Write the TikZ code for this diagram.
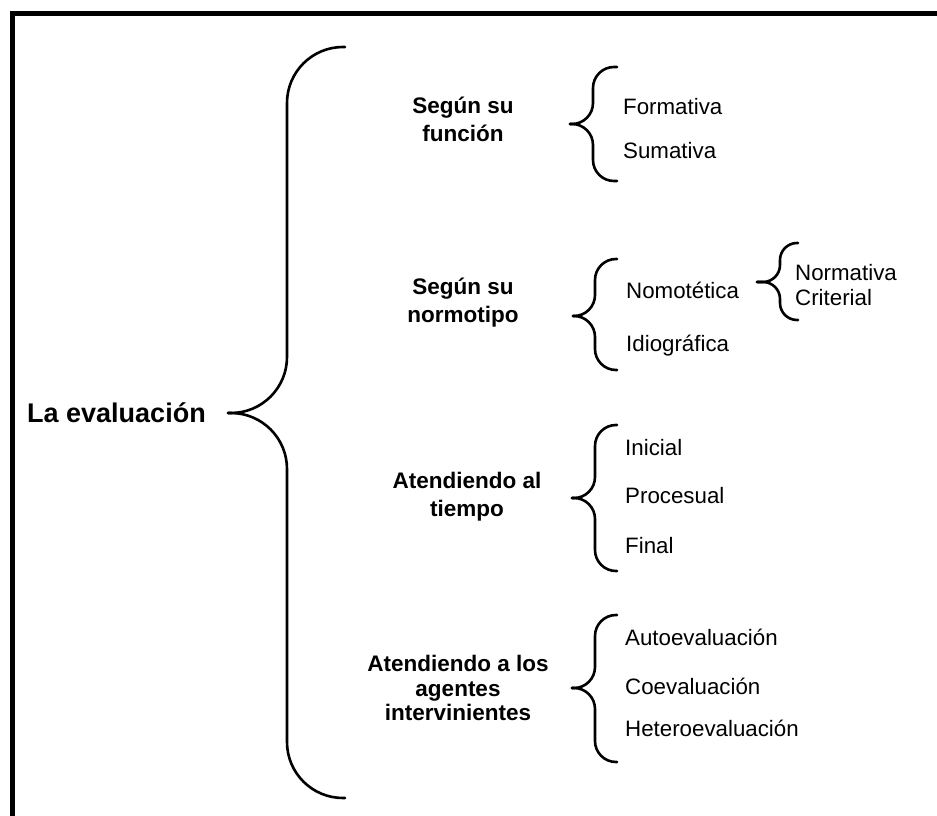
\documentclass[tikz,border=0pt]{standalone}
\usepackage{fontspec}
\setmainfont{Liberation Sans}

% llave: #1 extremos x, #2 lomo x, #3 pico x,
% #4 arriba y, #5 pico y, #6 abajo y, #7 radio
\newcommand{\llave}[7]{%
  \draw[llave, rounded corners=#7] (#1,#4) -- (#2,#4) -- (#2,#5) -- (#3,#5);
  \draw[llave, rounded corners=#7] (#3,#5) -- (#2,#5) -- (#2,#6) -- (#1,#6);}

\tikzset{
  llave/.style={line width=2.6pt, line cap=round},
  marco/.style={line width=5pt},
  tipo/.style={font=\fontsize{22.5}{28}\selectfont\bfseries, align=center, inner sep=0pt},
  item/.style={font=\fontsize{22.3}{26}\selectfont, anchor=west, inner sep=0pt,
    text height=16pt, text depth=0pt},
}

\begin{document}
\begin{tikzpicture}[x=1pt, y=-1pt]
\useasboundingbox (0,0) rectangle (937,816);
\draw[marco] (12.5,816) -- (12.5,13.5) -- (937,13.5);

\node[anchor=west, inner sep=0pt, text height=19pt, text depth=0pt,
  font=\fontsize{27}{32}\selectfont\bfseries] (eval) at (27,413) {La evaluación};

\node[tipo] (funcion) at (463,119) {Según su\\función};
\node[tipo] (normo) at (463,303) {Según su\\normotipo};
\node[tipo] (tiempo) at (467,497) {Atendiendo al\\tiempo};
\node[tipo, font=\fontsize{22.5}{24.5}\selectfont\bfseries] (agentes) at (458,688)
  {Atendiendo a los\\agentes\\intervinientes};

\node[item] (form) at (623,106) {Formativa};
\node[item] (suma) at (623,150) {Sumativa};
\node[item] (nomo) at (626,290) {Nomotética};
\node[item] (idio) at (626,343) {Idiográfica};
\node[item] (norm) at (795,272) {Normativa};
\node[item] (crit) at (795,297) {Criterial};
\node[item] (ini) at (625,447) {Inicial};
\node[item] (proc) at (625,495) {Procesual};
\node[item] (fin) at (625,545) {Final};
\node[item] (auto) at (625,637) {Autoevaluación};
\node[item] (coev) at (625,686) {Coevaluación};
\node[item] (hete) at (625,728) {Heteroevaluación};

\llave{345}{287}{228}{47}{413}{798}{56}
\llave{617}{593}{570}{67}{124}{181}{21}
\llave{617}{595}{573}{259}{316}{370}{21}
\llave{798}{780}{757}{243}{282}{320}{17}
\llave{617}{595}{572}{425}{498}{571}{21}
\llave{617}{595}{572}{615}{688}{762}{21}
\end{tikzpicture}
\end{document}
